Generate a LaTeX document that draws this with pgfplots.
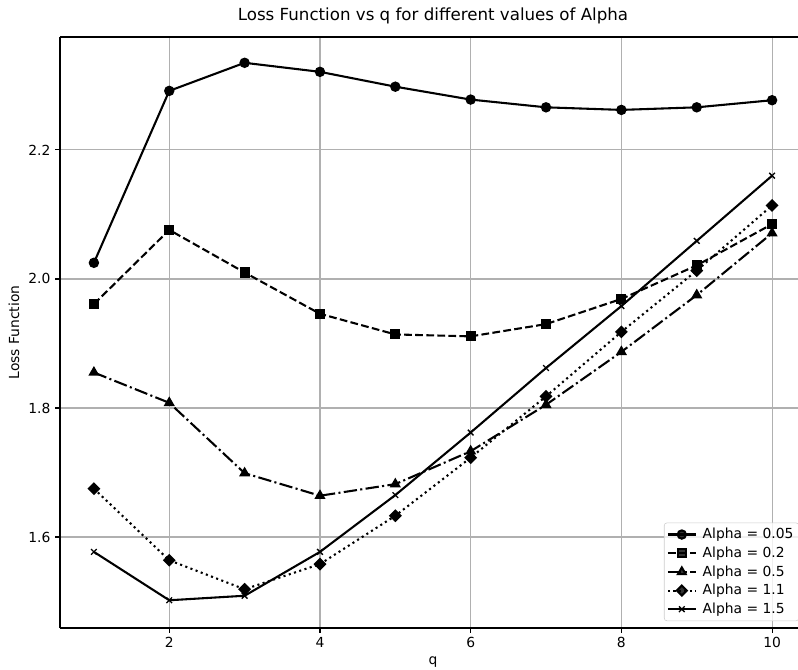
\documentclass[border=0pt]{standalone}
\usepackage{fontspec}
\setmainfont{DejaVu Sans}
\usepackage{pgfplots}
\pgfplotsset{compat=1.18}
\begin{document}
\begin{tikzpicture}
\begin{axis}[
  name=ax,
  scale only axis,
  width=559.5pt, height=443.25pt,
  xmin=0.55, xmax=10.45, ymin=1.459, ymax=2.375,
  axis lines*=left,
  xtick={2,4,6,8,10}, ytick={1.6,1.8,2.0,2.2},
  /pgf/number format/assume math mode=true,
  yticklabel style={/pgf/number format/.cd,fixed,fixed zerofill,precision=1},
  xticklabel style={/pgf/number format/.cd,fixed,precision=0},
  tick label style={font=\fontsize{10.4}{12}\selectfont},
  label style={font=\fontsize{10.4}{12}\selectfont},
  title style={font=\fontsize{12.5}{15}\selectfont},
  title={Loss Function vs q for different values of Alpha},
  xlabel={q}, ylabel={Loss Function},
  grid=major,
  grid style={color=black!31, line width=0.83pt},
  axis line style={line width=0.83pt},
  tick style={black, line width=0.83pt},
  tick align=outside,
  major tick length=3.65pt,
  every axis plot/.append style={line width=1.56pt, black},
  extra description/.code={\draw[line width=0.83pt] (rel axis cs:0,1) -- (rel axis cs:1,1);},
  legend cell align=left,
  legend style={at={(1,0)}, anchor=south east, xshift=-5.2pt, yshift=5.2pt,
    draw=black!20, rounded corners=2pt, fill=white, fill opacity=0.8, text opacity=1,
    font=\fontsize{10.4}{12}\selectfont, row sep=0.6pt, column sep=2.5pt,
    inner xsep=2pt, inner ysep=2pt, nodes={inner sep=2pt}},
  legend image code/.code={\draw[mark repeat=2,mark phase=2] plot coordinates {(0pt,0pt) (10.4pt,0pt) (20.8pt,0pt)};},
]
\addplot[solid, mark=*, mark size=3.1pt, mark options={solid, fill=black}] coordinates {
(1,2.025) (2,2.2915) (3,2.335) (4,2.321) (5,2.298) (6,2.278) (7,2.266) (8,2.262) (9,2.266) (10,2.277)};
\addlegendentry{Alpha = 0.05}
\addplot[dash pattern=on 5.8pt off 2.5pt, mark=square*, mark size=3pt, mark options={solid, fill=black}] coordinates {
(1,1.961) (2,2.076) (3,2.010) (4,1.946) (5,1.914) (6,1.911) (7,1.930) (8,1.969) (9,2.021) (10,2.085)};
\addlegendentry{Alpha = 0.2}
\addplot[dash pattern=on 10pt off 2.5pt on 1.56pt off 2.5pt, mark=triangle*, mark size=3.3pt, mark options={solid, fill=black}] coordinates {
(1,1.855) (2,1.808) (3,1.699) (4,1.664) (5,1.682) (6,1.733) (7,1.805) (8,1.887) (9,1.975) (10,2.071)};
\addlegendentry{Alpha = 0.5}
\addplot[dash pattern=on 1.56pt off 2.57pt, mark=square*, mark size=2.65pt, mark options={solid, fill=black, rotate=45}] coordinates {
(1,1.675) (2,1.564) (3,1.519) (4,1.558) (5,1.633) (6,1.723) (7,1.818) (8,1.918) (9,2.013) (10,2.114)};
\addlegendentry{Alpha = 1.1}
\addplot[solid, mark=x, mark size=3pt, mark options={solid, line width=1pt}] coordinates {
(1,1.577) (2,1.502) (3,1.509) (4,1.577) (5,1.665) (6,1.762) (7,1.862) (8,1.958) (9,2.059) (10,2.160)};
\addlegendentry{Alpha = 1.5}
\coordinate (sw) at (rel axis cs:0,0);
\end{axis}
\pgfresetboundingbox
\path ([shift={(-45pt,-30.75pt)}]sw) rectangle ([shift={(553.5pt,471pt)}]sw);
\end{tikzpicture}
\end{document}
